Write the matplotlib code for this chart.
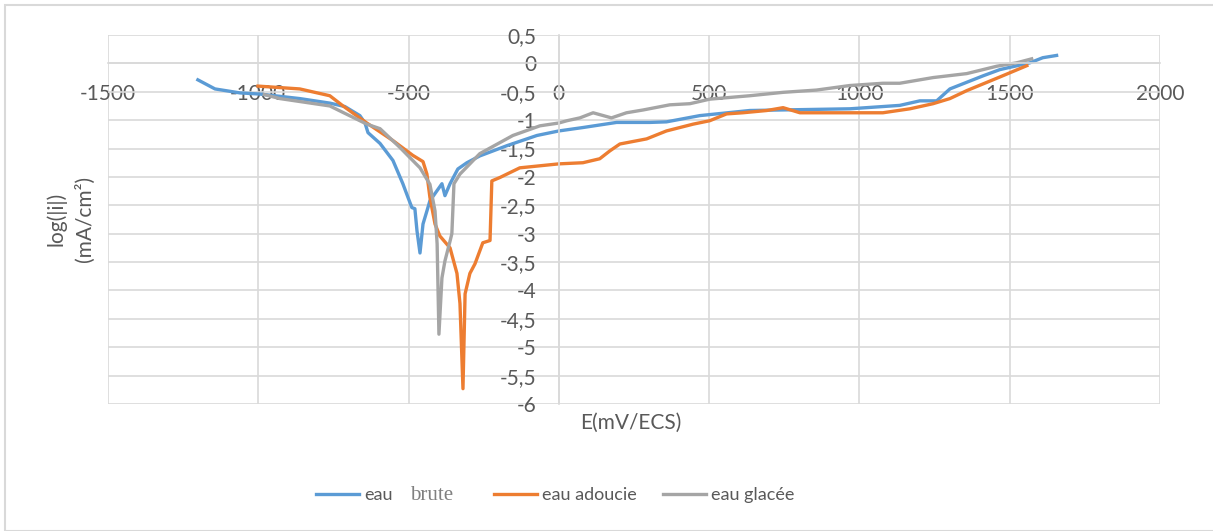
import matplotlib.pyplot as plt
from matplotlib.patches import Rectangle

plt.close('all')

# Polarisation curves (E in mV/ECS, log|i| in mA/cm2)
e_brute = [-1201, -1144, -1061, -995, -862, -762, -712, -662, -645, -635, -595, -552, -519, -502,
           -489, -479, -472, -462, -452, -439, -429, -389, -379, -362, -336, -306, -263, -173, -73,
           0, 80, 192, 303, 358, 469, 635, 968, 1134, 1201, 1257, 1301, 1411, 1467, 1567, 1610, 1656]
log_brute = [-0.29, -0.45, -0.52, -0.54, -0.62, -0.70, -0.76, -0.92, -1.05, -1.22, -1.41, -1.71, -2.12, -2.36,
             -2.54, -2.56, -2.95, -3.34, -2.83, -2.60, -2.42, -2.12, -2.33, -2.12, -1.86, -1.75, -1.63, -1.45, -1.27,
             -1.19, -1.13, -1.04, -1.04, -1.03, -0.92, -0.83, -0.80, -0.74, -0.66, -0.66, -0.45, -0.22, -0.11, 0.01, 0.10, 0.14]

e_adoucie = [-1001, -862, -762, -718, -639, -552, -486, -452, -439, -429, -412, -396, -362, -339, -329,
             -319, -312, -296, -279, -253, -229, -223, -196, -130, 0, 80, 136, 170, 203, 292, 358, 447,
             502, 558, 612, 692, 746, 802, 912, 1078, 1168, 1245, 1301, 1357, 1467, 1557]
log_adoucie = [-0.40, -0.45, -0.57, -0.75, -1.05, -1.36, -1.62, -1.73, -1.95, -2.36, -2.83, -3.04, -3.25, -3.70, -4.23,
               -5.73, -4.06, -3.70, -3.53, -3.16, -3.12, -2.07, -2.01, -1.84, -1.77, -1.75, -1.68, -1.54, -1.42, -1.33, -1.19, -1.07,
               -1.01, -0.89, -0.87, -0.83, -0.78, -0.87, -0.87, -0.87, -0.80, -0.71, -0.62, -0.48, -0.24, -0.04]

e_glacee = [-980, -928, -762, -639, -595, -529, -462, -429, -412, -405, -399, -389, -379, -362, -356,
            -349, -329, -263, -153, -63, 0, 27, 70, 114, 175, 225, 281, 369, 436, 502, 635, 746, 857,
            968, 1078, 1134, 1245, 1357, 1457, 1523, 1573]
log_glacee = [-0.55, -0.62, -0.75, -1.07, -1.15, -1.48, -1.84, -2.13, -2.60, -3.18, -4.77, -3.78, -3.48, -3.13, -3.00,
              -2.12, -1.95, -1.59, -1.27, -1.10, -1.05, -1.01, -0.96, -0.87, -0.96, -0.87, -0.82, -0.73, -0.71, -0.63, -0.57, -0.51, -0.47,
              -0.39, -0.35, -0.35, -0.25, -0.18, -0.05, 0.01, 0.08]

x_ticks = [-1500, -1000, -500, 0, 500, 1000, 1500, 2000]
y_ticks = [0.5, 0, -0.5, -1, -1.5, -2, -2.5, -3, -3.5, -4, -4.5, -5, -5.5, -6]
y_labels = ['0,5', '0', '-0,5', '-1', '-1,5', '-2', '-2,5', '-3', '-3,5', '-4', '-4,5', '-5', '-5,5', '-6']

plt.rcParams['font.family'] = ['Lato', 'DejaVu Sans']
plt.rcParams['axes.unicode_minus'] = False
text_col = '#595959'
grid_col = '#d9d9d9'

fig = plt.figure(figsize=(12.13, 5.31), dpi=100)
W, H = 1213, 531

# Outer chart border (only top and left visible in the original crop)
fig.patches.append(Rectangle((5 / W, 0), 2, 1 - 5 / H, transform=fig.transFigure,
                             fill=False, edgecolor=grid_col, linewidth=1.5))

ax = fig.add_axes([108 / W, (H - 404) / H, 1052 / W, 369 / H])

l1, = ax.plot(e_brute, log_brute, color='#5b9bd5', lw=2.4, label='eau', solid_joinstyle='round')
l2, = ax.plot(e_adoucie, log_adoucie, color='#ed7d31', lw=2.4, label='eau adoucie', solid_joinstyle='round')
l3, = ax.plot(e_glacee, log_glacee, color='#a5a5a5', lw=2.4, label='eau glacée', solid_joinstyle='round')

ax.set_xlim(-1500, 2000)
ax.set_ylim(-6, 0.5)
ax.set_xticks(x_ticks)
ax.set_yticks(y_ticks)
ax.set_yticklabels(y_labels)
ax.grid(True, color=grid_col, lw=1.2)

for s in ['top', 'right']:
    ax.spines[s].set_visible(False)
ax.spines['left'].set_position(('data', 0))
ax.spines['bottom'].set_position(('data', 0))
for s in ['left', 'bottom']:
    ax.spines[s].set_color(grid_col)
    ax.spines[s].set_linewidth(1.2)

ax.tick_params(axis='both', length=0, labelsize=15, labelcolor=text_col)
ax.tick_params(axis='x', pad=15)
ax.tick_params(axis='y', pad=16)

fig.text(631 / W, 1 - 423 / H, 'E(mV/ECS)', ha='center', va='center', fontsize=15, color=text_col)
fig.text(70 / W, 1 - 219 / H, 'log(|i|)\n(mA/cm²)', ha='center', va='center', rotation=90,
         fontsize=15, color=text_col, linespacing=1.5, multialignment='center')

# Legend: one small legend per entry so the serif "brute" can sit after "eau"
leg_kw = dict(frameon=False, fontsize=13, handlelength=2.4, handletextpad=0.25,
              borderpad=0, labelcolor=text_col, loc='center left')
for line, x_px in [(l1, 307), (l2, 485), (l3, 654)]:
    fig.legend(handles=[line], bbox_to_anchor=(x_px / W, 1 - 495 / H), **leg_kw)
fig.text(410 / W, 1 - 495 / H, 'brute', ha='left', va='center', fontsize=15,
         family='Liberation Serif', color='#808080')

fig.savefig('out.png', dpi=100)
